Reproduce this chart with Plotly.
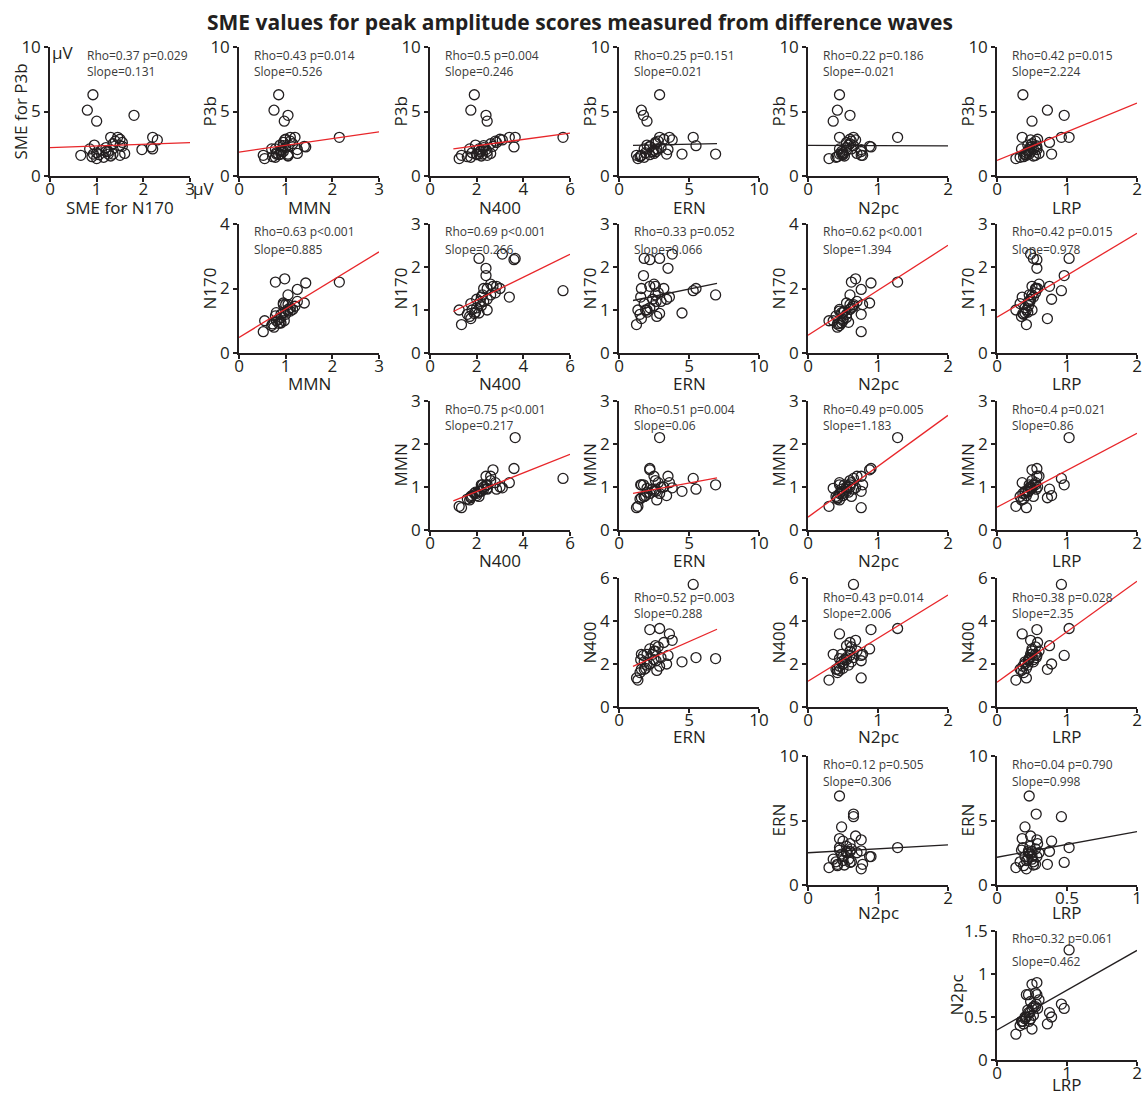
import plotly.graph_objects as go

# ---------------------------------------------------------------------------
# SME (standardized measurement error, µV) per participant for each component
# ---------------------------------------------------------------------------
p3b  = [6.3, 5.1, 4.7, 4.25, 3.0, 3.0, 1.7, 2.8, 2.1, 2.25, 2.05, 2.35, 1.7, 1.35, 1.6, 2.6, 1.7, 2.3,
        1.9, 1.6, 3.0, 2.0, 1.8, 2.5, 1.5, 2.2, 1.65, 2.7, 1.45, 1.9, 2.4, 1.55, 2.1, 1.75, 2.85]
n170 = [0.92, 0.8, 1.8, 1.0, 1.45, 2.2, 1.35, 2.3, 2.2, 2.17, 1.97, 1.5, 0.93, 1.0, 0.66, 1.55, 1.25, 1.55,
        1.2, 1.5, 1.3, 1.1, 1.0, 1.35, 0.9, 1.2, 1.05, 1.4, 1.15, 1.25, 0.95, 1.3, 0.85, 1.6, 1.5]
mmn  = [0.85, 0.75, 1.05, 0.97, 1.2, 2.15, 1.05, 0.98, 0.78, 1.43, 1.25, 0.95, 0.9, 0.55, 0.52, 0.95, 0.8, 1.4,
        0.9, 1.05, 1.1, 0.9, 0.8, 1.15, 0.72, 1.0, 0.85, 1.1, 0.78, 0.95, 0.88, 1.05, 0.7, 1.25, 1.0]
n400 = [1.9, 1.75, 2.4, 2.45, 5.7, 3.65, 2.25, 3.1, 2.1, 3.6, 2.4, 2.3, 2.1, 1.25, 1.35, 2.85, 2.0, 2.7,
        2.15, 2.45, 3.4, 2.2, 1.8, 2.6, 1.6, 2.3, 2.0, 2.8, 1.75, 2.45, 1.95, 2.2, 1.7, 2.6, 3.0]
ern  = [2.9, 1.6, 1.75, 2.0, 5.3, 2.9, 6.9, 3.8, 1.8, 2.2, 3.5, 5.5, 4.5, 1.35, 1.25, 2.6, 3.4, 2.2,
        2.65, 1.6, 3.6, 2.5, 1.9, 2.6, 1.5, 3.0, 2.2, 2.8, 1.8, 2.4, 2.0, 1.55, 2.7, 2.5, 3.2]
n2pc = [0.45, 0.42, 0.6, 0.36, 0.65, 1.28, 0.45, 0.68, 0.62, 0.9, 0.76, 0.65, 0.48, 0.3, 0.76, 0.55, 0.5, 0.88,
        0.76, 0.78, 0.45, 0.55, 0.5, 0.6, 0.42, 0.55, 0.5, 0.62, 0.4, 0.48, 0.58, 0.52, 0.45, 0.7, 0.6]
lrp  = [0.37, 0.72, 0.96, 0.5, 0.92, 1.03, 0.46, 0.48, 0.52, 0.57, 0.57, 0.56, 0.4, 0.27, 0.42, 0.75, 0.78, 0.5,
        0.45, 0.55, 0.36, 0.45, 0.42, 0.5, 0.38, 0.47, 0.4, 0.55, 0.33, 0.48, 0.44, 0.52, 0.35, 0.6, 0.58]

sme = {"P3b": p3b, "N170": n170, "MMN": mmn, "N400": n400, "ERN": ern, "N2pc": n2pc, "LRP": lrp}

# Component order: rows (y variable) and columns (x variable)
row_order = ["P3b", "N170", "MMN", "N400", "ERN", "N2pc"]
col_order = ["N170", "MMN", "N400", "ERN", "N2pc", "LRP"]

# Pairwise statistics (y, x)
pairs = [("P3b", "N170"), ("P3b", "MMN"), ("P3b", "N400"), ("P3b", "ERN"), ("P3b", "N2pc"), ("P3b", "LRP"),
         ("N170", "MMN"), ("N170", "N400"), ("N170", "ERN"), ("N170", "N2pc"), ("N170", "LRP"),
         ("MMN", "N400"), ("MMN", "ERN"), ("MMN", "N2pc"), ("MMN", "LRP"),
         ("N400", "ERN"), ("N400", "N2pc"), ("N400", "LRP"),
         ("ERN", "N2pc"), ("ERN", "LRP"),
         ("N2pc", "LRP")]
rho_values = [0.37, 0.43, 0.5, 0.25, 0.22, 0.42,
              0.63, 0.69, 0.33, 0.62, 0.42,
              0.75, 0.51, 0.49, 0.4,
              0.52, 0.43, 0.38,
              0.12, 0.04,
              0.32]
p_labels = ["=0.029", "=0.014", "=0.004", "=0.151", "=0.186", "=0.015",
            "<0.001", "<0.001", "=0.052", "<0.001", "=0.015",
            "<0.001", "=0.004", "=0.005", "=0.021",
            "=0.003", "=0.014", "=0.028",
            "=0.505", "=0.790",
            "=0.061"]
slopes = [0.131, 0.526, 0.246, 0.021, -0.021, 2.224,
          0.885, 0.266, 0.066, 1.394, 0.978,
          0.217, 0.06, 1.183, 0.86,
          0.288, 2.006, 2.35,
          0.306, 0.998,
          0.462]
intercepts = [2.2, 1.85, 1.85, 2.36, 2.37, 1.2,
              0.48, 0.70, 1.155, 0.55, 0.83,
              0.46, 0.79, 0.30, 0.53,
              1.6, 1.2, 1.15,
              2.5, 2.15,
              0.35]

# Axis extents (max, tick step)
x_axis = {"N170": (3, 1), "MMN": (3, 1), "N400": (6, 2), "ERN": (10, 5), "N2pc": (2, 1), "LRP": (2, 1)}
y_axis = {"P3b": (10, 5), "N170": (3, 1), "MMN": (3, 1), "N400": (6, 2), "ERN": (10, 5), "N2pc": (1.5, 0.5)}
y_axis_override = {("N170", "MMN"): (4, 2), ("N170", "N2pc"): (4, 2)}
# In the ERN/LRP panel the LRP axis is shown at half scale
x_display_scale = {("ERN", "LRP"): 0.5}
# x span of each fitted line
fit_span = {"N170": (0, 3), "MMN": (0, 3), "N400": (1, 6), "ERN": (1, 7), "N2pc": (0, 2), "LRP": (0, 2)}

TITLE = "SME values for peak amplitude scores measured from difference waves"

# ---------------------------------------------------------------------------
W, H = 1142, 1095
col_left = [50, 239, 430, 619, 808, 997]
row_top = [47, 224, 401, 578, 756, 931]
xtitle_gap = [31, 30, 30, 29, 27, 24]
PW, PH = 140, 129

INK = "#231f20"
RED = "#e8262a"
FONT = "Open Sans"


def fx(px):
    return px / W


def fy(py):
    return 1 - py / H


fig = go.Figure()
annotations = []
layout_axes = {}

for i, (yc, xc) in enumerate(pairs):
    r = row_order.index(yc)
    c = col_order.index(xc)
    k = "" if i == 0 else str(i + 1)
    x0, y0 = col_left[c], row_top[r]
    sc = x_display_scale.get((yc, xc), 1.0)
    xmax, xdt = x_axis[xc]
    xmax, xdt = xmax * sc, xdt * sc
    ymax, ydt = y_axis_override.get((yc, xc), y_axis[yc])

    xs = [v * sc for v in sme[xc]]
    ys = sme[yc]
    fig.add_trace(go.Scatter(
        x=xs, y=ys, mode="markers", xaxis="x" + k, yaxis="y" + k,
        marker=dict(symbol="circle-open", size=10, color=INK, line=dict(width=1.3, color=INK)),
        showlegend=False, hoverinfo="skip"))

    significant = p_labels[i].startswith("<") or float(p_labels[i][1:]) < 0.05
    lx = list(fit_span[xc])
    ly = [intercepts[i] + slopes[i] * v for v in lx]
    fig.add_trace(go.Scatter(
        x=[v * sc for v in lx], y=ly, mode="lines", xaxis="x" + k, yaxis="y" + k,
        line=dict(color=RED if significant else INK, width=1.3),
        showlegend=False, hoverinfo="skip"))

    common = dict(showline=True, linecolor=INK, linewidth=1.5, ticks="outside", ticklen=4,
                  tickwidth=1.5, tickcolor=INK, showgrid=False, zeroline=False, automargin=False,
                  tickfont=dict(family=FONT, size=17, color=INK), fixedrange=True)
    layout_axes["xaxis" + k] = dict(common, domain=[fx(x0), fx(x0 + PW)], anchor="y" + k,
                                    range=[0, xmax], dtick=xdt, tick0=0, ticklabelstandoff=-7)
    layout_axes["yaxis" + k] = dict(common, domain=[fy(y0 + PH), fy(y0)], anchor="x" + k,
                                    range=[0, ymax], dtick=ydt, tick0=0)

    # axis titles
    xt = "SME for " + xc if i == 0 else xc
    yt = "SME for " + yc if i == 0 else yc
    annotations.append(dict(x=fx(x0 + PW / 2), y=fy(y0 + PH + xtitle_gap[r]), xref="paper", yref="paper",
                            text=xt, showarrow=False, xanchor="center", yanchor="middle",
                            font=dict(family=FONT, size=17, color=INK)))
    ty_off = 41 if yc == "N2pc" else 30
    annotations.append(dict(x=fx(x0 - ty_off), y=fy(y0 + PH / 2), xref="paper", yref="paper",
                            text=yt, showarrow=False, textangle=-90, xanchor="center",
                            yanchor="middle", font=dict(family=FONT, size=17, color=INK)))

    # statistics text
    tx = x0 + (35 if i == 0 else 13)
    if yc == "N400":
        l1, l2 = 19, 35
    elif yc == "N2pc":
        l1, l2 = 7, 30
    else:
        l1, l2 = 8, 25
    annotations.append(dict(x=fx(tx), y=fy(y0 + l1), xref="paper", yref="paper",
                            text=f"Rho={rho_values[i]} p{p_labels[i]}", showarrow=False,
                            xanchor="left", yanchor="middle",
                            font=dict(family=FONT, size=12, color="#3a3a3a")))
    annotations.append(dict(x=fx(tx), y=fy(y0 + l2), xref="paper", yref="paper",
                            text=f"Slope={slopes[i]}", showarrow=False,
                            xanchor="left", yanchor="middle",
                            font=dict(family=FONT, size=12, color="#3a3a3a")))

# unit labels on the first panel
annotations.append(dict(x=fx(63), y=fy(53), xref="paper", yref="paper", text="μV", showarrow=False,
                        xanchor="center", yanchor="middle", font=dict(family=FONT, size=17, color=INK)))
annotations.append(dict(x=fx(204), y=fy(188), xref="paper", yref="paper", text="μV", showarrow=False,
                        xanchor="center", yanchor="middle", font=dict(family=FONT, size=17, color=INK)))

# figure title
annotations.append(dict(x=fx(580), y=fy(22), xref="paper", yref="paper", text="<b>" + TITLE + "</b>",
                        showarrow=False, xanchor="center", yanchor="middle",
                        font=dict(family=FONT, size=21, color=INK)))

fig.update_layout(
    width=W, height=H, autosize=False,
    margin=dict(l=0, r=0, t=0, b=0),
    paper_bgcolor="white", plot_bgcolor="white",
    template="none",
    annotations=annotations,
    **layout_axes,
)

fig.write_html("out.html")
